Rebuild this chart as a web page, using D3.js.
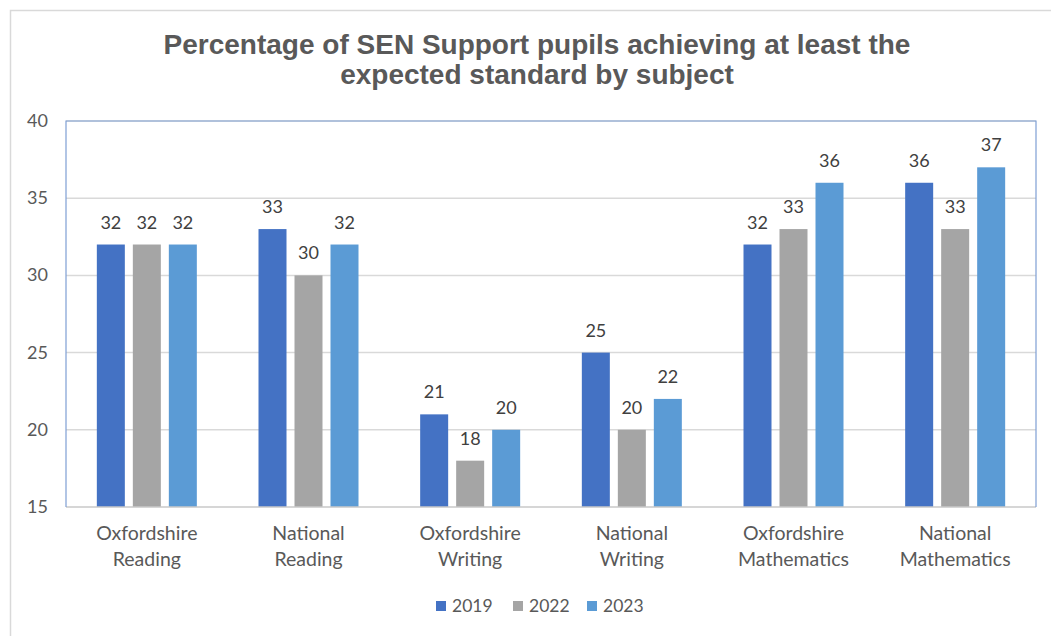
<!DOCTYPE html>
<html>
<head>
<meta charset="utf-8">
<script src="https://cdn.jsdelivr.net/npm/d3@7"></script>
<style>
  html, body { margin: 0; padding: 0; background: #fff; }
  svg { display: block; }
</style>
</head>
<body>
<svg id="chart" width="1051" height="636"></svg>
<script>
// --- Data ---
const categories = [
  ["Oxfordshire", "Reading"],
  ["National", "Reading"],
  ["Oxfordshire", "Writing"],
  ["National", "Writing"],
  ["Oxfordshire", "Mathematics"],
  ["National", "Mathematics"]
];
const seriesNames = ["2019", "2022", "2023"];
const values2019 = [32, 33, 21, 25, 32, 36];
const values2022 = [32, 30, 18, 20, 33, 33];
const values2023 = [32, 32, 20, 22, 36, 37];
const yTicks = [15, 20, 25, 30, 35, 40];
const titleLines = [
  "Percentage of SEN Support pupils achieving at least the",
  "expected standard by subject"
];

const seriesValues = [values2019, values2022, values2023];
const colors = ["#4472C4", "#A5A5A5", "#5B9BD5"];

// --- Layout ---
const W = 1051, H = 636;
const plot = { left: 66, top: 121, right: 1036, bottom: 507 };
const textColor = "#595959";
const font = "Lato, 'Open Sans', sans-serif";

const svg = d3.select("#chart");

// outer chart frame
svg.append("rect")
  .attr("x", 10.5).attr("y", 10.5)
  .attr("width", W + 10).attr("height", H + 10)
  .attr("fill", "#fff")
  .attr("stroke", "#d9d9d9").attr("stroke-width", 1.5);

// title (slightly condensed, like the original)
svg.append("g").selectAll("text")
  .data(titleLines)
  .join("text")
  .attr("x", 537).attr("y", (d, i) => 54 + i * 30)
  .attr("text-anchor", "middle")
  .attr("font-family", "'Liberation Sans', Arial, sans-serif")
  .attr("font-weight", "bold")
  .attr("font-size", 28)
  .attr("fill", textColor)
  .text(d => d);

// scales
const x0 = d3.scaleBand()
  .domain(d3.range(categories.length))
  .range([plot.left, plot.right]);

const groupW = 100;
const x1 = d3.scaleBand()
  .domain(seriesNames)
  .range([(x0.bandwidth() - groupW) / 2, (x0.bandwidth() + groupW) / 2])
  .paddingInner(8 / 36);

const y = d3.scaleLinear()
  .domain([15, 40])
  .range([plot.bottom, plot.top]);

// gridlines
svg.append("g").selectAll("line")
  .data(yTicks.filter(t => t !== 15))
  .join("line")
  .attr("x1", plot.left).attr("x2", plot.right)
  .attr("y1", d => y(d)).attr("y2", d => y(d))
  .attr("stroke", "#d9d9d9").attr("stroke-width", 1.5);

// y-axis tick labels
svg.append("g").selectAll("text")
  .data(yTicks)
  .join("text")
  .attr("x", 48).attr("y", d => y(d) + 6)
  .attr("text-anchor", "end")
  .attr("font-family", font)
  .attr("font-size", 18)
  .attr("fill", textColor)
  .text(d => d);

// bars
const groups = svg.append("g").selectAll("g")
  .data(categories.map((c, i) => i))
  .join("g")
  .attr("transform", i => `translate(${x0(i)},0)`);

groups.selectAll("rect")
  .data(i => seriesNames.map((s, k) => ({ s, k, v: seriesValues[k][i] })))
  .join("rect")
  .attr("x", d => x1(d.s))
  .attr("width", x1.bandwidth())
  .attr("y", d => y(d.v))
  .attr("height", d => y(15) - y(d.v))
  .attr("fill", d => colors[d.k]);

groups.selectAll("text.val")
  .data(i => seriesNames.map((s, k) => ({ s, k, v: seriesValues[k][i] })))
  .join("text")
  .attr("class", "val")
  .attr("x", d => x1(d.s) + x1.bandwidth() / 2)
  .attr("y", d => y(d.v) - 16)
  .attr("text-anchor", "middle")
  .attr("font-family", font)
  .attr("font-size", 18)
  .attr("fill", "#404040")
  .text(d => d.v);

// x axis line
svg.append("line")
  .attr("x1", plot.left).attr("x2", plot.right)
  .attr("y1", plot.bottom).attr("y2", plot.bottom)
  .attr("stroke", "#c8c8c8").attr("stroke-width", 1.5);

// plot area border (left, top, right)
svg.append("path")
  .attr("d", `M${plot.left},${plot.bottom}V${plot.top}H${plot.right}V${plot.bottom}`)
  .attr("fill", "none")
  .attr("stroke", "#7f9fd4").attr("stroke-width", 1.2);

// category labels
const catLabels = svg.append("g").selectAll("text")
  .data(categories)
  .join("text")
  .attr("x", (d, i) => x0(i) + x0.bandwidth() / 2)
  .attr("y", 540)
  .attr("text-anchor", "middle")
  .attr("font-family", font)
  .attr("font-size", 19.5)
  .attr("fill", textColor);
catLabels.selectAll("tspan")
  .data(d => d)
  .join("tspan")
  .attr("x", function () { return this.parentNode.getAttribute("x"); })
  .attr("dy", (d, i) => i === 0 ? 0 : 26)
  .text(d => d);

// legend
const legendX = [436, 513, 587];
const legend = svg.append("g").selectAll("g")
  .data(seriesNames)
  .join("g")
  .attr("transform", (d, i) => `translate(${legendX[i]},601)`);
legend.append("rect")
  .attr("width", 10).attr("height", 10)
  .attr("fill", (d, i) => colors[i]);
legend.append("text")
  .attr("x", 16).attr("y", 11)
  .attr("font-family", font)
  .attr("font-size", 17.5)
  .attr("fill", textColor)
  .text(d => d);
</script>
</body>
</html>
